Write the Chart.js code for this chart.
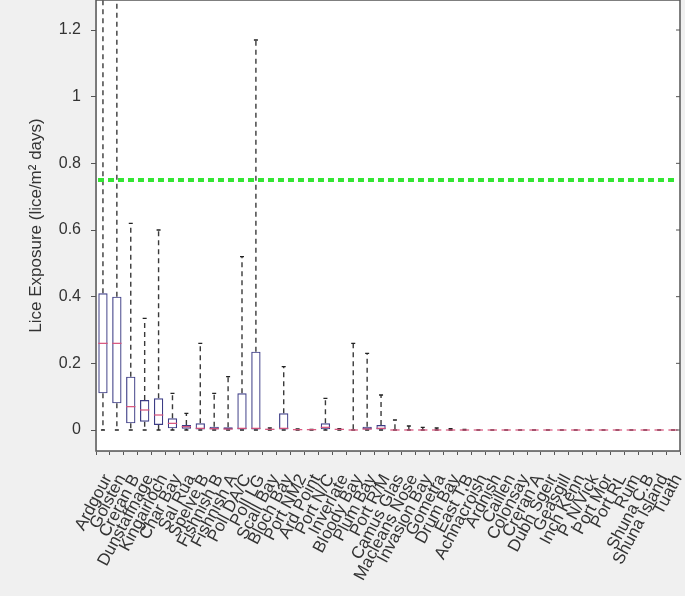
<!DOCTYPE html>
<html>
<head>
<meta charset="utf-8">
<script src="https://cdn.jsdelivr.net/npm/chart.js@4.4.1/dist/chart.umd.min.js"></script>
<style>
  html, body { margin: 0; padding: 0; background: #f0f0f0; overflow: hidden; }
</style>
</head>
<body>
<canvas id="lice-box" width="685" height="596"></canvas>
<script>
"use strict";

// Farms (x categories)
var sites = ["Ardgour", "Goisten", "Creran B", "Dunstaffnage", "Kingairloch", "Char Bay", "Sal Rua",
    "Spelve B", "Fishnish B", "Fishnish A", "Poll DA/C", "Poll LG", "Scall Bay", "Bloch Bay",
    "Port NM2", "Ard Point", "Port N/C", "Inverlate", "Bloody Bay", "Plum Bay", "Port R/M",
    "Camus Glas", "Macleans Nose", "Invasion Bay", "Gometra", "Drum Bay", "East T.B",
    "Achnacroish", "Ardnish", "Caillen", "Colonsay", "Creran A", "Dubh Sgeir", "Geasgill",
    "Inch Kenn", "P. N/Vick", "Port Mor", "Port RL", "Rum", "Shuna C.B", "Shuna Island", "Tuath"];

// box plot statistics, one value per farm
var whiskerLow = [0, 0, 0, 0, 0, 0, 0, 0, 0, 0, 0, 0, 0, 0, 0, 0, 0, 0, 0, 0, 0,
    0, 0, 0, 0, 0, 0, 0, 0, 0, 0, 0, 0, 0, 0, 0, 0, 0, 0, 0, 0, 0];
var quart1 = [0.11, 0.08, 0.02, 0.025, 0.015, 0.005, 0.004, 0, 0, 0, 0, 0, 0, 0, 0, 0, 0.002, 0, 0, 0, 0,
    0, 0, 0, 0, 0, 0, 0, 0, 0, 0, 0, 0, 0, 0, 0, 0, 0, 0, 0, 0, 0];
var medians = [0.26, 0.26, 0.07, 0.06, 0.045, 0.02, 0.01, 0.005, 0.004, 0.003, 0.005, 0.005, 0.002, 0.005,
    0.001, 0.001, 0.008, 0.002, 0, 0.003, 0.005, 0, 0, 0, 0, 0, 0, 0, 0, 0, 0, 0, 0, 0, 0, 0, 0, 0, 0, 0, 0, 0];
var quart3 = [0.41, 0.40, 0.16, 0.09, 0.095, 0.035, 0.015, 0.02, 0.01, 0.008, 0.11, 0.235, 0.004, 0.05,
    0.002, 0.002, 0.02, 0.003, 0.002, 0.01, 0.015, 0.002, 0.001, 0.001, 0.001, 0, 0,
    0, 0, 0, 0, 0, 0, 0, 0, 0, 0, 0, 0, 0, 0, 0];
var whiskerHigh = [1.6, 1.6, 0.62, 0.335, 0.60, 0.11, 0.05, 0.26, 0.11, 0.16, 0.52, 1.17, 0.006, 0.19,
    0.003, 0.002, 0.095, 0.004, 0.26, 0.23, 0.105, 0.03, 0.012, 0.008, 0.006, 0.004, 0.002,
    0, 0, 0, 0, 0, 0, 0, 0, 0, 0, 0, 0, 0, 0, 0];

var yTicks = [0, 0.2, 0.4, 0.6, 0.8, 1, 1.2];
var threshold = 0.75;

Chart.defaults.font.family = "'Liberation Sans', Arial, sans-serif";
Chart.defaults.color = "#333";

var boxes = sites.map(function (s, i) { return [quart1[i], quart3[i]]; });

// whiskers, medians, threshold line and frame
var boxExtras = {
    id: "boxExtras",
    beforeDraw: function (chart) {
        var a = chart.chartArea, c = chart.ctx;
        c.save();
        c.fillStyle = "#f0f0f0";
        c.fillRect(0, 0, chart.width, chart.height);
        c.fillStyle = "#ffffff";
        c.fillRect(a.left, a.top, a.right - a.left, a.bottom - a.top);
        c.restore();
    },
    beforeDatasetsDraw: function (chart) {
        var a = chart.chartArea, c = chart.ctx;
        var xs = chart.scales.x, ys = chart.scales.y;
        c.save();
        c.beginPath();
        c.rect(a.left, a.top, a.right - a.left, a.bottom - a.top);
        c.clip();
        sites.forEach(function (s, i) {
            var x = xs.getPixelForValue(i);
            var yHi = ys.getPixelForValue(whiskerHigh[i]);
            var yQ3 = ys.getPixelForValue(quart3[i]);
            var yQ1 = ys.getPixelForValue(quart1[i]);
            var yLo = ys.getPixelForValue(whiskerLow[i]);
            c.strokeStyle = "#3a3a3a";
            c.lineWidth = 1.4;
            c.setLineDash([5, 4]);
            c.beginPath();
            c.moveTo(x, yQ3); c.lineTo(x, yHi);
            c.moveTo(x, yQ1); c.lineTo(x, yLo);
            c.stroke();
            c.setLineDash([]);
            c.strokeStyle = "#222";
            c.beginPath();
            c.moveTo(x - 2, yHi); c.lineTo(x + 2, yHi);
            c.moveTo(x - 2, yLo); c.lineTo(x + 2, yLo);
            c.stroke();
        });
        c.restore();
    },
    afterDatasetsDraw: function (chart) {
        var a = chart.chartArea, c = chart.ctx;
        var ys = chart.scales.y;
        var meta = chart.getDatasetMeta(0);
        c.save();
        // medians
        c.strokeStyle = "#d8507a";
        c.lineWidth = 1.2;
        sites.forEach(function (s, i) {
            var bar = meta.data[i];
            var half = bar.width / 2;
            var y = ys.getPixelForValue(medians[i]);
            c.beginPath();
            c.moveTo(bar.x - half, y); c.lineTo(bar.x + half, y);
            c.stroke();
        });
        // threshold
        var yT = ys.getPixelForValue(threshold);
        c.strokeStyle = "#33e633";
        c.lineWidth = 4;
        c.setLineDash([6, 4]);
        c.beginPath();
        c.moveTo(a.left + 2, yT); c.lineTo(a.right - 2, yT);
        c.stroke();
        c.setLineDash([]);
        // frame + right ticks
        c.strokeStyle = "#555";
        c.lineWidth = 1.5;
        c.beginPath();
        c.moveTo(a.left, a.top); c.lineTo(a.left, a.bottom);
        c.lineTo(a.right, a.bottom); c.lineTo(a.right, a.top);
        c.lineTo(a.left, a.top);
        c.stroke();
        c.lineWidth = 1;
        yTicks.forEach(function (t) {
            var y = ys.getPixelForValue(t);
            c.beginPath();
            c.moveTo(a.right, y); c.lineTo(a.right - 4, y);
            c.stroke();
        });
        c.restore();
    }
};

var ctx = document.getElementById("lice-box").getContext("2d");
var liceChart = new Chart(ctx, {
    type: "bar",
    data: {
        labels: sites,
        datasets: [{
            label: "Lice exposure",
            data: boxes,
            backgroundColor: "rgba(255, 255, 255, 0)",
            borderColor: "#3c3c85",
            borderWidth: 1.2,
            borderSkipped: false,
            barPercentage: 0.67,
            categoryPercentage: 1
        }]
    },
    options: {
        responsive: false,
        animation: false,
        layout: { padding: { right: 5 } },
        plugins: {
            legend: { display: false },
            tooltip: { enabled: false }
        },
        scales: {
            x: {
                grid: { drawOnChartArea: false, tickLength: 4, color: "#555" },
                ticks: {
                    autoSkip: false,
                    minRotation: 62,
                    maxRotation: 62,
                    padding: 16,
                    labelOffset: 5,
                    font: { size: 17 },
                    color: "#333"
                },
                afterFit: function (scale) {
                    scale.height = 145;
                    scale.paddingLeft = 0;
                    scale.paddingRight = 0;
                }
            },
            y: {
                min: -0.063,
                max: 1.29,
                grid: { drawOnChartArea: false, tickLength: 5, color: "#555" },
                ticks: {
                    padding: 10,
                    font: { size: 16 },
                    color: "#333",
                    callback: function (v) { return String(+v.toFixed(2)); }
                },
                afterBuildTicks: function (scale) {
                    scale.ticks = yTicks.map(function (v) { return { value: v }; });
                },
                title: {
                    display: true,
                    text: "Lice Exposure (lice/m\u00b2 days)",
                    font: { size: 17 },
                    color: "#333",
                    padding: { top: 26, bottom: 0 }
                },
                afterFit: function (scale) {
                    scale.width = 96;
                    scale.paddingTop = 0;
                    scale.paddingBottom = 0;
                }
            }
        }
    },
    plugins: [boxExtras]
});
</script>
</body>
</html>
